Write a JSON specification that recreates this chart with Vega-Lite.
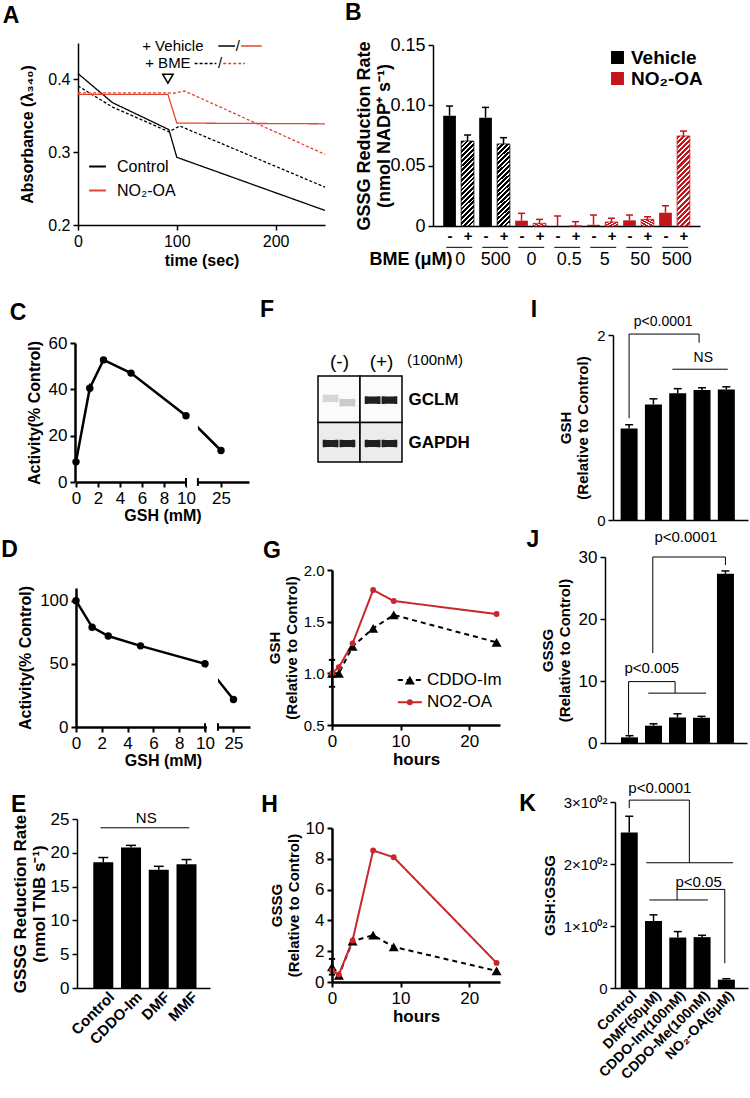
{
"$schema":"https://vega.github.io/schema/vega-lite/v6.json",
"width":750,"height":1098,
"autosize":{"type":"none"},
"padding":0,
"background":"white",
"config":{
 "view":{"stroke":null},
 "font":"Liberation Sans",
 "axis":{"grid":false,"domainColor":"#000","tickColor":"#000","labelColor":"#000","titleColor":"#000","labelFont":"Liberation Sans","titleFont":"Liberation Sans","labelOverlap":false,"labelFlush":false,"labelBound":false,"titleFontWeight":"bold","tickSize":5,"labelPadding":3},
 "text":{"font":"Liberation Sans","color":"#000"},
 "point":{"opacity":1},
 "legend":{"labelFont":"Liberation Sans","labelColor":"#000"}
},
"resolve":{"scale":{"x":"independent","y":"independent","color":"independent","strokeDash":"independent","shape":"independent","size":"independent","fill":"independent","stroke":"independent"},"axis":{"x":"independent","y":"independent"},"legend":{"color":"independent","strokeDash":"independent","shape":"independent","size":"independent","fill":"independent","stroke":"independent"}},
"datasets":{
 "A":[
  {"series":"Control","bme":"Vehicle","t":0,"v":0.408},{"series":"Control","bme":"Vehicle","t":35,"v":0.368},{"series":"Control","bme":"Vehicle","t":92,"v":0.331},{"series":"Control","bme":"Vehicle","t":100,"v":0.293},{"series":"Control","bme":"Vehicle","t":250,"v":0.22},
  {"series":"Control","bme":"BME","t":0,"v":0.391},{"series":"Control","bme":"BME","t":35,"v":0.362},{"series":"Control","bme":"BME","t":92,"v":0.328},{"series":"Control","bme":"BME","t":103,"v":0.336},{"series":"Control","bme":"BME","t":250,"v":0.252},
  {"series":"NO₂-OA","bme":"Vehicle","t":0,"v":0.3795},{"series":"NO₂-OA","bme":"Vehicle","t":91,"v":0.3795},{"series":"NO₂-OA","bme":"Vehicle","t":100,"v":0.34},{"series":"NO₂-OA","bme":"Vehicle","t":250,"v":0.339},
  {"series":"NO₂-OA","bme":"BME","t":0,"v":0.3815},{"series":"NO₂-OA","bme":"BME","t":90,"v":0.3815},{"series":"NO₂-OA","bme":"BME","t":97,"v":0.381},{"series":"NO₂-OA","bme":"BME","t":108,"v":0.384},{"series":"NO₂-OA","bme":"BME","t":250,"v":0.297}
 ],
 "Aseg":[
  {"series":"Control","bme":"Vehicle","t":142,"v":0.446},{"series":"Control","bme":"Vehicle","t":159,"v":0.446},
  {"series":"NO₂-OA","bme":"Vehicle","t":165,"v":0.446},{"series":"NO₂-OA","bme":"Vehicle","t":186,"v":0.446},
  {"series":"Control","bme":"BME","t":118,"v":0.422},{"series":"Control","bme":"BME","t":140,"v":0.422},
  {"series":"NO₂-OA","bme":"BME","t":147,"v":0.422},{"series":"NO₂-OA","bme":"BME","t":169,"v":0.422}
 ],
 "Atxt":[{"txt":"+ Vehicle","t":127,"v":0.446},{"txt":"/","t":164,"v":0.446},{"txt":"+ BME","t":114,"v":0.422},{"txt":"/","t":146,"v":0.422}],
 "B":[
  {"i":1,"trt":"Vehicle","bme":"-","v":0.0914,"err":0.0994},
  {"i":2,"trt":"Vehicle","bme":"+","v":0.0704,"err":0.0754},
  {"i":3,"trt":"Vehicle","bme":"-","v":0.0898,"err":0.0983},
  {"i":4,"trt":"Vehicle","bme":"+","v":0.068,"err":0.0732},
  {"i":5,"trt":"NO₂-OA","bme":"-","v":0.0044,"err":0.0105},
  {"i":6,"trt":"NO₂-OA","bme":"+","v":0.0022,"err":0.0055},
  {"i":7,"trt":"NO₂-OA","bme":"-","v":0.0,"err":0.0083},
  {"i":8,"trt":"NO₂-OA","bme":"+","v":0.0,"err":0.0036},
  {"i":9,"trt":"NO₂-OA","bme":"-","v":0.001,"err":0.0091},
  {"i":10,"trt":"NO₂-OA","bme":"+","v":0.0033,"err":0.0064},
  {"i":11,"trt":"NO₂-OA","bme":"-","v":0.0047,"err":0.0091},
  {"i":12,"trt":"NO₂-OA","bme":"+","v":0.0055,"err":0.0077},
  {"i":13,"trt":"NO₂-OA","bme":"-","v":0.011,"err":0.0168},
  {"i":14,"trt":"NO₂-OA","bme":"+","v":0.0746,"err":0.0787}
 ],
 "Bgrp":[
  {"lab":"0","a":0.82,"b":2.26,"m":1.6},{"lab":"500","a":2.82,"b":4.26,"m":3.57},{"lab":"0","a":4.82,"b":6.26,"m":5.55},{"lab":"0.5","a":6.82,"b":8.26,"m":7.65},{"lab":"5","a":8.82,"b":10.26,"m":9.62},{"lab":"50","a":10.82,"b":12.26,"m":11.6},{"lab":"500","a":12.82,"b":14.26,"m":13.62}
 ],
 "C":[{"g":0,"a":8.7},{"g":1.25,"a":40.5,"lo":38.5,"hi":42.5},{"g":2.5,"a":52.7},{"g":5,"a":47},{"g":10,"a":28.6},{"g":25,"a":13.6}],
 "D":[{"g":0,"a":100},{"g":1.25,"a":79},{"g":2.5,"a":72},{"g":5,"a":64.2,"lo":61.8,"hi":66.6},{"g":10,"a":50},{"g":25,"a":21.8}],
 "E":[{"i":1,"v":18.6,"e":19.3},{"i":2,"v":20.8,"e":21.1},{"i":3,"v":17.5,"e":18.0},{"i":4,"v":18.3,"e":19.0}],
 "Fcell":[{"p":"GCLM","x1":0,"x2":2,"y1":0,"y2":1.08},{"p":"GCLM","x1":2,"x2":4,"y1":0,"y2":1.08},{"p":"GAPDH","x1":0,"x2":2,"y1":1.08,"y2":2},{"p":"GAPDH","x1":2,"x2":4,"y1":1.08,"y2":2}],
 "Fband":[
  {"lx":0.6,"ly":0.52,"lvl":"faint"},{"lx":1.4,"ly":0.62,"lvl":"faint2"},
  {"lx":2.6,"ly":0.56,"lvl":"strong"},{"lx":3.4,"ly":0.56,"lvl":"strong"},
  {"lx":0.6,"ly":1.57,"lvl":"strong"},{"lx":1.4,"ly":1.57,"lvl":"strong"},
  {"lx":2.6,"ly":1.57,"lvl":"strong"},{"lx":3.4,"ly":1.57,"lvl":"strong"}
 ],
 "G":[
  {"s":"CDDO-Im","h":0,"v":1.0},{"s":"CDDO-Im","h":1,"v":1.0},{"s":"CDDO-Im","h":3,"v":1.26},{"s":"CDDO-Im","h":6,"v":1.435},{"s":"CDDO-Im","h":9,"v":1.565},{"s":"CDDO-Im","h":24,"v":1.3},
  {"s":"NO2-OA","h":0,"v":1.0},{"s":"NO2-OA","h":1,"v":1.06},{"s":"NO2-OA","h":3,"v":1.29},{"s":"NO2-OA","h":6,"v":1.806},{"s":"NO2-OA","h":9,"v":1.7},{"s":"NO2-OA","h":24,"v":1.574}
 ],
 "Gleg":[{"s":"CDDO-Im","h":9.6,"v":0.935},{"s":"CDDO-Im","h":13.1,"v":0.935},{"s":"NO2-OA","h":9.6,"v":0.72},{"s":"NO2-OA","h":13.1,"v":0.72}],
 "Gmk":[{"s":"CDDO-Im","h":11.35,"ht":13.85,"v":0.935},{"s":"NO2-OA","h":11.35,"ht":13.85,"v":0.72}],
 "H":[
  {"s":"CDDO-Im","h":0,"v":0.98},{"s":"CDDO-Im","h":1,"v":0.43},{"s":"CDDO-Im","h":3,"v":2.65},{"s":"CDDO-Im","h":6,"v":3.04},{"s":"CDDO-Im","h":9,"v":2.28},{"s":"CDDO-Im","h":24,"v":0.72},
  {"s":"NO2-OA","h":0,"v":0.75},{"s":"NO2-OA","h":1,"v":0.48},{"s":"NO2-OA","h":3,"v":2.7},{"s":"NO2-OA","h":6,"v":8.54},{"s":"NO2-OA","h":9,"v":8.1},{"s":"NO2-OA","h":24,"v":1.24}
 ],
 "I":[{"i":1,"v":0.99,"e":1.03},{"i":2,"v":1.25,"e":1.31},{"i":3,"v":1.37,"e":1.42},{"i":4,"v":1.405,"e":1.43},{"i":5,"v":1.41,"e":1.44}],
 "Iann":[{"x1":1,"x2":1,"y1":1.1,"y2":2.01},{"x1":1,"x2":3.88,"y1":2.01,"y2":2.01},{"x1":3.88,"x2":3.88,"y1":2.01,"y2":1.917},{"x1":2.78,"x2":5.06,"y1":1.63,"y2":1.63}],
 "Itxt":[{"txt":"p<0.0001","x":2.4,"y":2.14},{"txt":"NS","x":4.05,"y":1.75}],
 "J":[{"i":1,"v":0.91,"e":1.18},{"i":2,"v":2.79,"e":3.1},{"i":3,"v":4.12,"e":4.71},{"i":4,"v":4.07,"e":4.3},{"i":5,"v":27.3,"e":27.75}],
 "Jann":[{"x1":0.96,"x2":0.96,"y1":1.34,"y2":9.9},{"x1":0.96,"x2":2.9,"y1":9.9,"y2":9.9},{"x1":2.9,"x2":2.9,"y1":9.9,"y2":8.04},{"x1":1.78,"x2":4.19,"y1":8.04,"y2":8.04},{"x1":1.97,"x2":1.97,"y1":14.5,"y2":30},{"x1":1.97,"x2":5.0,"y1":30,"y2":30},{"x1":5.0,"x2":5.0,"y1":30,"y2":28.7}],
 "Jtxt":[{"txt":"p<0.005","x":1.93,"y":12.06},{"txt":"p<0.0001","x":3.35,"y":33.2}],
 "K":[{"i":1,"v":250.7,"e":277},{"i":2,"v":108,"e":118},{"i":3,"v":81.4,"e":91},{"i":4,"v":82,"e":85},{"i":5,"v":13.4,"e":15}],
 "Kann":[{"x1":1,"x2":1,"y1":290,"y2":303},{"x1":1,"x2":3.476,"y1":303,"y2":303},{"x1":3.476,"x2":3.476,"y1":303,"y2":202},{"x1":1.7,"x2":5.28,"y1":202,"y2":202},{"x1":1.827,"x2":4.24,"y1":142,"y2":142},{"x1":2.97,"x2":2.97,"y1":142,"y2":159},{"x1":2.97,"x2":4.935,"y1":159,"y2":159},{"x1":4.935,"x2":4.935,"y1":159,"y2":40}],
 "Ktxt":[{"txt":"p<0.0001","x":2.26,"y":322},{"txt":"p<0.05","x":3.857,"y":171.7}]
},
"layer":[
 {"layer":[
  {"data":{"name":"A"},"mark":{"type":"line","strokeWidth":1.3},
   "encoding":{
    "x":{"field":"t","type":"quantitative","scale":{"domain":[0,250],"range":[78,325],"nice":false,"zero":false},"axis":{"orient":"bottom","offset":-873,"values":[0,100,200],"format":"d","title":"time (sec)","labelFontSize":16,"titleFontSize":16,"domainWidth":1.5,"tickWidth":1.5,"titlePadding":3}},
    "y":{"field":"v","type":"quantitative","scale":{"domain":[0.2,0.45],"range":[225,43],"nice":false,"zero":false},"axis":{"orient":"left","offset":-78,"values":[0.2,0.3,0.4],"format":".1f","title":"Absorbance (λ₃₄₀)","labelFontSize":16,"titleFontSize":16,"domainWidth":1.5,"tickWidth":1.5,"titlePadding":12}},
    "color":{"field":"series","type":"nominal","scale":{"domain":["Control","NO₂-OA"],"range":["#000000","#e2452f"]},"legend":{"orient":"none","legendX":88,"legendY":157,"title":null,"symbolType":"stroke","symbolStrokeWidth":2,"symbolSize":280,"labelFontSize":16,"rowPadding":6,"labelOffset":10}},
    "strokeDash":{"field":"bme","type":"nominal","scale":{"domain":["Vehicle","BME"],"range":[[1,0],[3,2]]},"legend":null}
   }},
  {"data":{"name":"Aseg"},"mark":{"type":"line","strokeWidth":1.5},"encoding":{"x":{"field":"t","type":"quantitative"},"y":{"field":"v","type":"quantitative"},"color":{"field":"series","type":"nominal"},"strokeDash":{"field":"bme","type":"nominal"}}},
  {"data":{"name":"Atxt"},"mark":{"type":"text","align":"right","baseline":"middle","fontSize":15},"encoding":{"x":{"field":"t","type":"quantitative"},"y":{"field":"v","type":"quantitative"},"text":{"field":"txt"}}},
  {"data":{"values":[{"t":91,"v":0.401}]},"mark":{"type":"point","shape":"triangle-down","filled":false,"stroke":"#000","strokeWidth":1.5,"size":110},"encoding":{"x":{"field":"t","type":"quantitative"},"y":{"field":"v","type":"quantitative"}}},
  {"data":{"values":[{"L":"A","t":-67.8,"v":0.4775}]},"mark":{"type":"text","fontSize":23,"fontWeight":"bold","align":"center","baseline":"alphabetic"},"encoding":{"x":{"field":"t","type":"quantitative"},"y":{"field":"v","type":"quantitative"},"text":{"field":"L"}}}
 ]},
 {"layer":[
  {"data":{"name":"B"},"transform":[{"filter":"datum.bme == '-'"}],"mark":{"type":"bar","width":12.7},
   "encoding":{
    "x":{"field":"i","type":"quantitative","scale":{"domain":[0.358,14.64],"range":[433,700],"nice":false,"zero":false},"axis":{"orient":"bottom","offset":-872,"values":[1,2,3,4,5,6,7,8,9,10,11,12,13,14],"labelExpr":"datum.value % 2 == 1 ? '-' : '+'","ticks":false,"labelFontSize":15,"labelFontWeight":"bold","domainWidth":1.5,"title":null,"labelPadding":2}},
    "y":{"field":"v","type":"quantitative","scale":{"domain":[0,0.15],"range":[226,45],"nice":false,"zero":false},"axis":{"orient":"left","offset":-433,"values":[0,0.05,0.1,0.15],"labelExpr":"datum.value == 0 ? '0' : format(datum.value, '.2f')","labelFontSize":18,"title":["GSSG Reduction Rate","(nmol NADP⁺ s⁻¹)"],"titleFontSize":18,"domainWidth":1.5,"tickWidth":1.5,"titlePadding":-4}},
    "color":{"field":"trt","type":"nominal","scale":{"domain":["Vehicle","NO₂-OA"],"range":["#000000","#c3161c"]},"legend":{"orient":"none","legendX":608,"legendY":48,"title":null,"symbolType":"square","symbolSize":130,"labelFontSize":19,"labelFontWeight":"bold","rowPadding":1,"labelOffset":4}}
   }},
  {"data":{"name":"B"},"transform":[{"filter":"datum.bme == '+' && datum.trt == 'Vehicle'"}],"mark":{"type":"bar","width":12.7,"stroke":"#000","strokeWidth":0.8,"fill":{"gradient":"linear","x1":0,"y1":0,"x2":0.164,"y2":1.1,"stops":[{"offset":0,"color":"#000"},{"offset":0.03,"color":"#000"},{"offset":0.03,"color":"#fff"},{"offset":0.05,"color":"#fff"},{"offset":0.05,"color":"#000"},{"offset":0.08,"color":"#000"},{"offset":0.08,"color":"#fff"},{"offset":0.1,"color":"#fff"},{"offset":0.1,"color":"#000"},{"offset":0.13,"color":"#000"},{"offset":0.13,"color":"#fff"},{"offset":0.15,"color":"#fff"},{"offset":0.15,"color":"#000"},{"offset":0.18,"color":"#000"},{"offset":0.18,"color":"#fff"},{"offset":0.2,"color":"#fff"},{"offset":0.2,"color":"#000"},{"offset":0.23,"color":"#000"},{"offset":0.23,"color":"#fff"},{"offset":0.25,"color":"#fff"},{"offset":0.25,"color":"#000"},{"offset":0.28,"color":"#000"},{"offset":0.28,"color":"#fff"},{"offset":0.3,"color":"#fff"},{"offset":0.3,"color":"#000"},{"offset":0.33,"color":"#000"},{"offset":0.33,"color":"#fff"},{"offset":0.35,"color":"#fff"},{"offset":0.35,"color":"#000"},{"offset":0.38,"color":"#000"},{"offset":0.38,"color":"#fff"},{"offset":0.4,"color":"#fff"},{"offset":0.4,"color":"#000"},{"offset":0.43,"color":"#000"},{"offset":0.43,"color":"#fff"},{"offset":0.45,"color":"#fff"},{"offset":0.45,"color":"#000"},{"offset":0.48,"color":"#000"},{"offset":0.48,"color":"#fff"},{"offset":0.5,"color":"#fff"},{"offset":0.5,"color":"#000"},{"offset":0.53,"color":"#000"},{"offset":0.53,"color":"#fff"},{"offset":0.55,"color":"#fff"},{"offset":0.55,"color":"#000"},{"offset":0.58,"color":"#000"},{"offset":0.58,"color":"#fff"},{"offset":0.6,"color":"#fff"},{"offset":0.6,"color":"#000"},{"offset":0.63,"color":"#000"},{"offset":0.63,"color":"#fff"},{"offset":0.65,"color":"#fff"},{"offset":0.65,"color":"#000"},{"offset":0.68,"color":"#000"},{"offset":0.68,"color":"#fff"},{"offset":0.7,"color":"#fff"},{"offset":0.7,"color":"#000"},{"offset":0.73,"color":"#000"},{"offset":0.73,"color":"#fff"},{"offset":0.75,"color":"#fff"},{"offset":0.75,"color":"#000"},{"offset":0.78,"color":"#000"},{"offset":0.78,"color":"#fff"},{"offset":0.8,"color":"#fff"},{"offset":0.8,"color":"#000"},{"offset":0.83,"color":"#000"},{"offset":0.83,"color":"#fff"},{"offset":0.85,"color":"#fff"},{"offset":0.85,"color":"#000"},{"offset":0.88,"color":"#000"},{"offset":0.88,"color":"#fff"},{"offset":0.9,"color":"#fff"},{"offset":0.9,"color":"#000"},{"offset":0.93,"color":"#000"},{"offset":0.93,"color":"#fff"},{"offset":0.95,"color":"#fff"},{"offset":0.95,"color":"#000"},{"offset":0.98,"color":"#000"},{"offset":0.98,"color":"#fff"},{"offset":1,"color":"#fff"}]}},"encoding":{"x":{"field":"i","type":"quantitative"},"y":{"field":"v","type":"quantitative"}}},
  {"data":{"name":"B"},"transform":[{"filter":"datum.bme == '+' && datum.trt != 'Vehicle'"}],"mark":{"type":"bar","width":12.7,"stroke":"#c3161c","strokeWidth":0.8,"fill":{"gradient":"linear","x1":0,"y1":0,"x2":0.158,"y2":1.119,"stops":[{"offset":0,"color":"#c3161c"},{"offset":0.03,"color":"#c3161c"},{"offset":0.03,"color":"#fff"},{"offset":0.05,"color":"#fff"},{"offset":0.05,"color":"#c3161c"},{"offset":0.08,"color":"#c3161c"},{"offset":0.08,"color":"#fff"},{"offset":0.1,"color":"#fff"},{"offset":0.1,"color":"#c3161c"},{"offset":0.13,"color":"#c3161c"},{"offset":0.13,"color":"#fff"},{"offset":0.15,"color":"#fff"},{"offset":0.15,"color":"#c3161c"},{"offset":0.18,"color":"#c3161c"},{"offset":0.18,"color":"#fff"},{"offset":0.2,"color":"#fff"},{"offset":0.2,"color":"#c3161c"},{"offset":0.23,"color":"#c3161c"},{"offset":0.23,"color":"#fff"},{"offset":0.25,"color":"#fff"},{"offset":0.25,"color":"#c3161c"},{"offset":0.28,"color":"#c3161c"},{"offset":0.28,"color":"#fff"},{"offset":0.3,"color":"#fff"},{"offset":0.3,"color":"#c3161c"},{"offset":0.33,"color":"#c3161c"},{"offset":0.33,"color":"#fff"},{"offset":0.35,"color":"#fff"},{"offset":0.35,"color":"#c3161c"},{"offset":0.38,"color":"#c3161c"},{"offset":0.38,"color":"#fff"},{"offset":0.4,"color":"#fff"},{"offset":0.4,"color":"#c3161c"},{"offset":0.43,"color":"#c3161c"},{"offset":0.43,"color":"#fff"},{"offset":0.45,"color":"#fff"},{"offset":0.45,"color":"#c3161c"},{"offset":0.48,"color":"#c3161c"},{"offset":0.48,"color":"#fff"},{"offset":0.5,"color":"#fff"},{"offset":0.5,"color":"#c3161c"},{"offset":0.53,"color":"#c3161c"},{"offset":0.53,"color":"#fff"},{"offset":0.55,"color":"#fff"},{"offset":0.55,"color":"#c3161c"},{"offset":0.58,"color":"#c3161c"},{"offset":0.58,"color":"#fff"},{"offset":0.6,"color":"#fff"},{"offset":0.6,"color":"#c3161c"},{"offset":0.63,"color":"#c3161c"},{"offset":0.63,"color":"#fff"},{"offset":0.65,"color":"#fff"},{"offset":0.65,"color":"#c3161c"},{"offset":0.68,"color":"#c3161c"},{"offset":0.68,"color":"#fff"},{"offset":0.7,"color":"#fff"},{"offset":0.7,"color":"#c3161c"},{"offset":0.73,"color":"#c3161c"},{"offset":0.73,"color":"#fff"},{"offset":0.75,"color":"#fff"},{"offset":0.75,"color":"#c3161c"},{"offset":0.78,"color":"#c3161c"},{"offset":0.78,"color":"#fff"},{"offset":0.8,"color":"#fff"},{"offset":0.8,"color":"#c3161c"},{"offset":0.83,"color":"#c3161c"},{"offset":0.83,"color":"#fff"},{"offset":0.85,"color":"#fff"},{"offset":0.85,"color":"#c3161c"},{"offset":0.88,"color":"#c3161c"},{"offset":0.88,"color":"#fff"},{"offset":0.9,"color":"#fff"},{"offset":0.9,"color":"#c3161c"},{"offset":0.93,"color":"#c3161c"},{"offset":0.93,"color":"#fff"},{"offset":0.95,"color":"#fff"},{"offset":0.95,"color":"#c3161c"},{"offset":0.98,"color":"#c3161c"},{"offset":0.98,"color":"#fff"},{"offset":1,"color":"#fff"}]}},"encoding":{"x":{"field":"i","type":"quantitative"},"y":{"field":"v","type":"quantitative"}}},
  {"data":{"name":"B"},"mark":{"type":"rule","strokeWidth":1.5},"encoding":{"x":{"field":"i","type":"quantitative"},"y":{"field":"v","type":"quantitative"},"y2":{"field":"err"},"stroke":{"field":"trt","type":"nominal","scale":{"domain":["Vehicle","NO₂-OA"],"range":["#000000","#c3161c"]},"legend":null}}},
  {"data":{"name":"B"},"mark":{"type":"point","shape":"M-1,0L1,0","filled":false,"strokeWidth":1.5,"size":49,"opacity":1},"encoding":{"x":{"field":"i","type":"quantitative"},"y":{"field":"err","type":"quantitative"},"stroke":{"field":"trt","type":"nominal","legend":null}}},
  {"data":{"name":"Bgrp"},"mark":{"type":"rule","strokeWidth":1,"color":"#000"},"encoding":{"x":{"field":"a","type":"quantitative"},"x2":{"field":"b"},"y":{"datum":-0.0177,"type":"quantitative"}}},
  {"data":{"name":"Bgrp"},"mark":{"type":"text","fontSize":18,"baseline":"middle"},"encoding":{"x":{"field":"m","type":"quantitative"},"y":{"datum":-0.0282,"type":"quantitative"},"text":{"field":"lab"}}},
  {"data":{"values":[{"s":"BME (μM)"}]},"mark":{"type":"text","fontSize":18,"fontWeight":"bold","align":"right","baseline":"middle"},"encoding":{"x":{"datum":1.16,"type":"quantitative"},"y":{"datum":-0.0282,"type":"quantitative"},"text":{"field":"s"}}},
  {"data":{"values":[{"L":"B","x":-4.35,"y":0.1705}]},"mark":{"type":"text","fontSize":23,"fontWeight":"bold","align":"center","baseline":"alphabetic"},"encoding":{"x":{"field":"x","type":"quantitative"},"y":{"field":"y","type":"quantitative"},"text":{"field":"L"}}}
 ]},
 {"layer":[
  {"data":{"name":"C"},"mark":{"type":"line","strokeWidth":2.5,"color":"#000"},"encoding":{
    "x":{"field":"g","type":"quantitative","scale":{"domain":[0,10,37],"range":[76,186,249],"nice":false,"zero":false},"axis":{"orient":"bottom","offset":-616,"values":[0,2,4,6,8,10,25],"format":"d","labelFontSize":17,"title":"GSH (mM)","titleFontSize":16,"domainWidth":2.5,"tickWidth":2,"titlePadding":1}},
    "y":{"field":"a","type":"quantitative","scale":{"domain":[0,60],"range":[482,343],"nice":false,"zero":false},"axis":{"orient":"left","offset":-75,"values":[0,20,40,60],"format":"d","labelFontSize":17,"title":"Activity(% Control)","titleFontSize":16,"domainWidth":2.5,"tickWidth":2,"titlePadding":6}}}},
  {"data":{"values":[{}]},"mark":{"type":"rect","fill":"white"},"encoding":{"x":{"datum":10.4,"type":"quantitative"},"x2":{"datum":15.1},"y":{"datum":-2.2,"type":"quantitative"},"y2":{"datum":40}}},
  {"data":{"values":[{"b":10},{"b":15.1}]},"mark":{"type":"rule","strokeWidth":2,"color":"#000"},"encoding":{"x":{"field":"b","type":"quantitative"},"y":{"datum":-1.7,"type":"quantitative"},"y2":{"datum":1.7}}},
  {"data":{"name":"C"},"transform":[{"filter":"isValid(datum.lo)"}],"mark":{"type":"rule","strokeWidth":1.5,"color":"#000"},"encoding":{"x":{"field":"g","type":"quantitative"},"y":{"field":"lo","type":"quantitative"},"y2":{"field":"hi"}}},
  {"data":{"name":"C"},"mark":{"type":"point","filled":true,"color":"#000","size":55,"opacity":1},"encoding":{"x":{"field":"g","type":"quantitative"},"y":{"field":"a","type":"quantitative"}}},
  {"data":{"values":[{"L":"C","x":-5.27,"y":69.9}]},"mark":{"type":"text","fontSize":23,"fontWeight":"bold","align":"center","baseline":"alphabetic"},"encoding":{"x":{"field":"x","type":"quantitative"},"y":{"field":"y","type":"quantitative"},"text":{"field":"L"}}}
 ]},
 {"layer":[
  {"data":{"name":"D"},"mark":{"type":"line","strokeWidth":2.5,"color":"#000"},"encoding":{
    "x":{"field":"g","type":"quantitative","scale":{"domain":[0,10,33.7],"range":[76,205,250],"nice":false,"zero":false},"axis":{"orient":"bottom","offset":-371,"values":[0,2,4,6,8,10,25],"format":"d","labelFontSize":17,"title":"GSH (mM)","titleFontSize":16,"domainWidth":2.5,"tickWidth":2,"titlePadding":1}},
    "y":{"field":"a","type":"quantitative","scale":{"domain":[0,110],"range":[727,588],"nice":false,"zero":false},"axis":{"orient":"left","offset":-76,"values":[0,50,100],"format":"d","labelFontSize":17,"title":"Activity(% Control)","titleFontSize":16,"domainWidth":2.5,"tickWidth":2,"titlePadding":6}}}},
  {"data":{"values":[{}]},"mark":{"type":"rect","fill":"white"},"encoding":{"x":{"datum":11.05,"type":"quantitative"},"x2":{"datum":16.85},"y":{"datum":-2.1,"type":"quantitative"},"y2":{"datum":60}}},
  {"data":{"values":[{"b":10},{"b":16.85}]},"mark":{"type":"rule","strokeWidth":2,"color":"#000"},"encoding":{"x":{"field":"b","type":"quantitative"},"y":{"datum":-3,"type":"quantitative"},"y2":{"datum":3}}},
  {"data":{"name":"D"},"transform":[{"filter":"isValid(datum.lo)"}],"mark":{"type":"rule","strokeWidth":1.5,"color":"#000"},"encoding":{"x":{"field":"g","type":"quantitative"},"y":{"field":"lo","type":"quantitative"},"y2":{"field":"hi"}}},
  {"data":{"name":"D"},"mark":{"type":"point","filled":true,"color":"#000","size":55,"opacity":1},"encoding":{"x":{"field":"g","type":"quantitative"},"y":{"field":"a","type":"quantitative"}}},
  {"data":{"values":[{"L":"D","x":-5.155,"y":134.5}]},"mark":{"type":"text","fontSize":23,"fontWeight":"bold","align":"center","baseline":"alphabetic"},"encoding":{"x":{"field":"x","type":"quantitative"},"y":{"field":"y","type":"quantitative"},"text":{"field":"L"}}}
 ]},
 {"layer":[
  {"data":{"name":"E"},"mark":{"type":"bar","width":20,"color":"#000"},"encoding":{
    "x":{"field":"i","type":"quantitative","scale":{"domain":[0.233,4.667],"range":[77,210],"nice":false,"zero":false},"axis":{"orient":"bottom","offset":-110,"values":[1,2,3,4],"labelExpr":"['','Control','CDDO-Im','DMF','MMF'][datum.value]","labelAngle":-45,"labelAlign":"right","labelBaseline":"middle","labelFontSize":15,"labelFontWeight":"bold","ticks":false,"domainWidth":1.5,"title":null,"labelPadding":6,"labelOffset":8}},
    "y":{"field":"v","type":"quantitative","scale":{"domain":[0,25],"range":[988,819],"nice":false,"zero":false},"axis":{"orient":"left","offset":-77,"values":[0,5,10,15,20,25],"format":"d","labelFontSize":17,"title":["GSSG Reduction Rate","(nmol TNB s⁻¹)"],"titleFontSize":17,"domainWidth":1.5,"tickWidth":1.5,"titlePadding":2}}}},
  {"data":{"name":"E"},"mark":{"type":"rule","strokeWidth":1.5,"color":"#000"},"encoding":{"x":{"field":"i","type":"quantitative"},"y":{"field":"v","type":"quantitative"},"y2":{"field":"e"}}},
  {"data":{"name":"E"},"mark":{"type":"point","shape":"M-1,0L1,0","filled":false,"stroke":"#000","strokeWidth":1.5,"size":100,"opacity":1},"encoding":{"x":{"field":"i","type":"quantitative"},"y":{"field":"e","type":"quantitative"}}},
  {"data":{"values":[{"txt":"NS"}]},"mark":{"type":"rule","strokeWidth":1,"color":"#000"},"encoding":{"x":{"datum":0.9,"type":"quantitative"},"x2":{"datum":4.1},"y":{"datum":23.7,"type":"quantitative"}}},
  {"data":{"values":[{"txt":"NS"}]},"mark":{"type":"text","fontSize":15,"baseline":"middle"},"encoding":{"x":{"datum":2.55,"type":"quantitative"},"y":{"datum":25.1,"type":"quantitative"},"text":{"field":"txt"}}},
  {"data":{"values":[{"L":"E","x":-2.05,"y":26.0}]},"mark":{"type":"text","fontSize":23,"fontWeight":"bold","align":"center","baseline":"alphabetic"},"encoding":{"x":{"field":"x","type":"quantitative"},"y":{"field":"y","type":"quantitative"},"text":{"field":"L"}}}
 ]},
 {"layer":[
  {"data":{"name":"Fcell"},"mark":{"type":"rect","stroke":"#000","strokeWidth":1.5},"encoding":{
    "x":{"field":"x1","type":"quantitative","scale":{"domain":[0,4],"range":[318,402],"nice":false,"zero":false},"axis":{"orient":"top","offset":-376,"values":[1,3],"labelExpr":"datum.value < 2 ? '(-)' : '(+)'","labelFontSize":19,"ticks":false,"domain":false,"title":null,"labelPadding":5}},
    "x2":{"field":"x2"},
    "y":{"field":"y1","type":"quantitative","scale":{"domain":[0,2],"range":[376,462],"nice":false,"zero":false},"axis":{"orient":"right","offset":-348,"values":[0.54,1.54],"labelExpr":"datum.value < 1 ? 'GCLM' : 'GAPDH'","labelFontSize":17,"labelFontWeight":"bold","ticks":false,"domain":false,"title":null,"labelPadding":6}},
    "y2":{"field":"y2"},
    "fill":{"field":"p","type":"nominal","scale":{"domain":["GCLM","GAPDH"],"range":["#fbfbfb","#ececec"]},"legend":null}}},
  {"data":{"name":"Fband"},"mark":{"type":"point","shape":"M-1,-0.42C-1,-0.5,-0.8,-0.5,-0.5,-0.45L0.5,-0.45C0.8,-0.5,1,-0.5,1,-0.42L1,0.42C1,0.5,0.8,0.5,0.5,0.45L-0.5,0.45C-0.8,0.5,-1,0.5,-1,0.42Z","filled":true,"size":250,"opacity":0.95},"encoding":{"x":{"field":"lx","type":"quantitative"},"y":{"field":"ly","type":"quantitative"},"color":{"field":"lvl","type":"nominal","scale":{"domain":["faint","faint2","strong"],"range":["#d4d4d4","#c8c8c8","#141414"]},"legend":null}}},
  {"data":{"values":[{"s":"(100nM)"}]},"mark":{"type":"text","fontSize":15,"baseline":"middle","align":"center"},"encoding":{"x":{"datum":5.57,"type":"quantitative"},"y":{"datum":-0.37,"type":"quantitative"},"text":{"field":"s"}}}
 ]},
 {"layer":[
  {"data":{"name":"G"},"mark":{"type":"line","strokeWidth":2},"encoding":{
    "x":{"field":"h","type":"quantitative","scale":{"domain":[0,24.5],"range":[332,500],"nice":false,"zero":false},"axis":{"orient":"bottom","offset":-373,"values":[0,10,20],"format":"d","labelFontSize":17,"title":"hours","titleFontSize":17,"domainWidth":2.5,"tickWidth":2,"titlePadding":2}},
    "y":{"field":"v","type":"quantitative","scale":{"domain":[0.5,2],"range":[725,570],"nice":false,"zero":false},"axis":{"orient":"left","offset":-332,"values":[0.5,1,1.5,2],"format":".1f","labelFontSize":15,"title":["GSH","(Relative to Control)"],"titleFontSize":15,"domainWidth":2.5,"tickWidth":2,"titlePadding":4}},
    "color":{"field":"s","type":"nominal","scale":{"domain":["CDDO-Im","NO2-OA"],"range":["#000000","#c8272b"]},"legend":null},
    "strokeDash":{"field":"s","type":"nominal","scale":{"domain":["CDDO-Im","NO2-OA"],"range":[[5,4],[1,0]]},"legend":null}}},
  {"data":{"name":"G"},"mark":{"type":"point","filled":true,"opacity":1},"encoding":{"x":{"field":"h","type":"quantitative"},"y":{"field":"v","type":"quantitative"},"color":{"field":"s","type":"nominal","legend":null},"shape":{"field":"s","type":"nominal","scale":{"domain":["CDDO-Im","NO2-OA"],"range":["triangle-up","circle"]},"legend":null},"size":{"field":"s","type":"nominal","scale":{"domain":["CDDO-Im","NO2-OA"],"range":[100,35]},"legend":null}}},
  {"data":{"values":[{"h":0,"lo":0.87,"hi":1.13}]},"mark":{"type":"rule","strokeWidth":2,"color":"#000"},"encoding":{"x":{"field":"h","type":"quantitative"},"y":{"field":"lo","type":"quantitative"},"y2":{"field":"hi"}}},
  {"data":{"values":[{"h":0,"c":0.87},{"h":0,"c":1.13}]},"mark":{"type":"point","shape":"M-1,0L1,0","filled":false,"stroke":"#000","strokeWidth":2,"size":40,"opacity":1},"encoding":{"x":{"field":"h","type":"quantitative"},"y":{"field":"c","type":"quantitative"}}},
  {"data":{"name":"Gleg"},"mark":{"type":"line","strokeWidth":2},"encoding":{"x":{"field":"h","type":"quantitative"},"y":{"field":"v","type":"quantitative"},"color":{"field":"s","type":"nominal","legend":null},"strokeDash":{"field":"s","type":"nominal","legend":null}}},
  {"data":{"name":"Gmk"},"mark":{"type":"point","filled":true,"opacity":1},"encoding":{"x":{"field":"h","type":"quantitative"},"y":{"field":"v","type":"quantitative"},"color":{"field":"s","type":"nominal","legend":null},"shape":{"field":"s","type":"nominal","legend":null},"size":{"field":"s","type":"nominal","legend":null}}},
  {"data":{"name":"Gmk"},"mark":{"type":"text","fontSize":17,"align":"left","baseline":"middle"},"encoding":{"x":{"field":"ht","type":"quantitative"},"y":{"field":"v","type":"quantitative"},"text":{"field":"s"}}},
  {"data":{"values":[{"L":"F","x":-9.48,"y":4.448},{"L":"G","x":-8.75,"y":2.116}]},"mark":{"type":"text","fontSize":23,"fontWeight":"bold","align":"center","baseline":"alphabetic"},"encoding":{"x":{"field":"x","type":"quantitative"},"y":{"field":"y","type":"quantitative"},"text":{"field":"L"}}}
 ]},
 {"layer":[
  {"data":{"name":"H"},"mark":{"type":"line","strokeWidth":2},"encoding":{
    "x":{"field":"h","type":"quantitative","scale":{"domain":[0,24.5],"range":[332,500],"nice":false,"zero":false},"axis":{"orient":"bottom","offset":-116,"values":[0,10,20],"format":"d","labelFontSize":17,"title":"hours","titleFontSize":17,"domainWidth":2.5,"tickWidth":2,"titlePadding":2}},
    "y":{"field":"v","type":"quantitative","scale":{"domain":[0,10],"range":[982,828],"nice":false,"zero":false},"axis":{"orient":"left","offset":-332,"values":[0,2,4,6,8,10],"format":"d","labelFontSize":17,"title":["GSSG","(Relative to Control)"],"titleFontSize":15,"domainWidth":2.5,"tickWidth":2,"titlePadding":4}},
    "color":{"field":"s","type":"nominal","scale":{"domain":["CDDO-Im","NO2-OA"],"range":["#000000","#c8272b"]},"legend":null},
    "strokeDash":{"field":"s","type":"nominal","scale":{"domain":["CDDO-Im","NO2-OA"],"range":[[5,4],[1,0]]},"legend":null}}},
  {"data":{"name":"H"},"mark":{"type":"point","filled":true,"opacity":1},"encoding":{"x":{"field":"h","type":"quantitative"},"y":{"field":"v","type":"quantitative"},"color":{"field":"s","type":"nominal","legend":null},"shape":{"field":"s","type":"nominal","scale":{"domain":["CDDO-Im","NO2-OA"],"range":["triangle-up","circle"]},"legend":null},"size":{"field":"s","type":"nominal","scale":{"domain":["CDDO-Im","NO2-OA"],"range":[100,35]},"legend":null}}},
  {"data":{"values":[{"h":0,"lo":0.48,"hi":1.5}]},"mark":{"type":"rule","strokeWidth":2,"color":"#000"},"encoding":{"x":{"field":"h","type":"quantitative"},"y":{"field":"lo","type":"quantitative"},"y2":{"field":"hi"}}},
  {"data":{"values":[{"h":0,"c":0.48},{"h":0,"c":1.5}]},"mark":{"type":"point","shape":"M-1,0L1,0","filled":false,"stroke":"#000","strokeWidth":2,"size":40,"opacity":1},"encoding":{"x":{"field":"h","type":"quantitative"},"y":{"field":"c","type":"quantitative"}}},
  {"data":{"values":[{"L":"H","x":-9.11,"y":11.04}]},"mark":{"type":"text","fontSize":23,"fontWeight":"bold","align":"center","baseline":"alphabetic"},"encoding":{"x":{"field":"x","type":"quantitative"},"y":{"field":"y","type":"quantitative"},"text":{"field":"L"}}}
 ]},
 {"layer":[
  {"data":{"name":"I"},"mark":{"type":"bar","width":17,"color":"#000"},"encoding":{
    "x":{"field":"i","type":"quantitative","scale":{"domain":[0.543,5.686],"range":[613,748],"nice":false,"zero":false},"axis":{"orient":"bottom","offset":-578,"labels":false,"ticks":false,"domainWidth":1.5,"title":null}},
    "y":{"field":"v","type":"quantitative","scale":{"domain":[0,2],"range":[520,335],"nice":false,"zero":false},"axis":{"orient":"left","offset":-613,"values":[0,1,2],"format":"d","labelFontSize":15,"title":["GSH","(Relative to Control)"],"titleFontSize":15,"domainWidth":1.5,"tickWidth":1.5,"titlePadding":6}}}},
  {"data":{"name":"I"},"mark":{"type":"rule","strokeWidth":1.5,"color":"#000"},"encoding":{"x":{"field":"i","type":"quantitative"},"y":{"field":"v","type":"quantitative"},"y2":{"field":"e"}}},
  {"data":{"name":"I"},"mark":{"type":"point","shape":"M-1,0L1,0","filled":false,"stroke":"#000","strokeWidth":1.5,"size":64,"opacity":1},"encoding":{"x":{"field":"i","type":"quantitative"},"y":{"field":"e","type":"quantitative"}}},
  {"data":{"name":"Iann"},"mark":{"type":"rule","strokeWidth":1,"color":"#000"},"encoding":{"x":{"field":"x1","type":"quantitative"},"x2":{"field":"x2"},"y":{"field":"y1","type":"quantitative"},"y2":{"field":"y2"}}},
  {"data":{"name":"Itxt"},"mark":{"type":"text","fontSize":14,"baseline":"middle"},"encoding":{"x":{"field":"x","type":"quantitative"},"y":{"field":"y","type":"quantitative"},"text":{"field":"txt"}}},
  {"data":{"values":[{"L":"I","x":-2.92,"y":2.195}]},"mark":{"type":"text","fontSize":23,"fontWeight":"bold","align":"center","baseline":"alphabetic"},"encoding":{"x":{"field":"x","type":"quantitative"},"y":{"field":"y","type":"quantitative"},"text":{"field":"L"}}}
 ]},
 {"layer":[
  {"data":{"name":"J"},"mark":{"type":"bar","width":17,"color":"#000"},"encoding":{
    "x":{"field":"i","type":"quantitative","scale":{"domain":[0.186,5.69],"range":[605,747],"nice":false,"zero":false},"axis":{"orient":"bottom","offset":-355,"labels":false,"ticks":false,"domainWidth":1.5,"title":null}},
    "y":{"field":"v","type":"quantitative","scale":{"domain":[0,30],"range":[743,557],"nice":false,"zero":false},"axis":{"orient":"left","offset":-605,"values":[0,10,20,30],"format":"d","labelFontSize":17,"title":["GSSG","(Relative to Control)"],"titleFontSize":15,"domainWidth":1.5,"tickWidth":1.5,"titlePadding":6}}}},
  {"data":{"name":"J"},"mark":{"type":"rule","strokeWidth":1.5,"color":"#000"},"encoding":{"x":{"field":"i","type":"quantitative"},"y":{"field":"v","type":"quantitative"},"y2":{"field":"e"}}},
  {"data":{"name":"J"},"mark":{"type":"point","shape":"M-1,0L1,0","filled":false,"stroke":"#000","strokeWidth":1.5,"size":64,"opacity":1},"encoding":{"x":{"field":"i","type":"quantitative"},"y":{"field":"e","type":"quantitative"}}},
  {"data":{"name":"Jann"},"mark":{"type":"rule","strokeWidth":1,"color":"#000"},"encoding":{"x":{"field":"x1","type":"quantitative"},"x2":{"field":"x2"},"y":{"field":"y1","type":"quantitative"},"y2":{"field":"y2"}}},
  {"data":{"name":"Jtxt"},"mark":{"type":"text","fontSize":15,"baseline":"middle"},"encoding":{"x":{"field":"x","type":"quantitative"},"y":{"field":"y","type":"quantitative"},"text":{"field":"txt"}}},
  {"data":{"values":[{"L":"J","x":-3.03,"y":31.6}]},"mark":{"type":"text","fontSize":23,"fontWeight":"bold","align":"center","baseline":"alphabetic"},"encoding":{"x":{"field":"x","type":"quantitative"},"y":{"field":"y","type":"quantitative"},"text":{"field":"L"}}}
 ]},
 {"layer":[
  {"data":{"name":"K"},"mark":{"type":"bar","width":17,"color":"#000"},"encoding":{
    "x":{"field":"i","type":"quantitative","scale":{"domain":[0.619,5.686],"range":[615,748],"nice":false,"zero":false},"axis":{"orient":"bottom","offset":-110,"values":[1,2,3,4,5],"labelExpr":"['','Control','DMF(50μM)','CDDO-Im(100nM)','CDDO-Me(100nM)','NO₂-OA(5μM)'][datum.value]","labelAngle":-45,"labelAlign":"right","labelBaseline":"middle","labelFontSize":14,"labelFontWeight":"bold","ticks":false,"domainWidth":1.5,"title":null,"labelPadding":5,"labelOffset":5}},
    "y":{"field":"v","type":"quantitative","scale":{"domain":[0,300],"range":[988,802],"nice":false,"zero":false},"axis":{"orient":"left","offset":-615,"values":[0,100,200,300],"labelExpr":"datum.value == 0 ? '0' : (datum.value/100) + '×10⁰²'","labelFontSize":15,"title":"GSH:GSSG","titleFontSize":15,"domainWidth":1.5,"tickWidth":1.5,"titlePadding":6}}}},
  {"data":{"name":"K"},"mark":{"type":"rule","strokeWidth":1.5,"color":"#000"},"encoding":{"x":{"field":"i","type":"quantitative"},"y":{"field":"v","type":"quantitative"},"y2":{"field":"e"}}},
  {"data":{"name":"K"},"mark":{"type":"point","shape":"M-1,0L1,0","filled":false,"stroke":"#000","strokeWidth":1.5,"size":64,"opacity":1},"encoding":{"x":{"field":"i","type":"quantitative"},"y":{"field":"e","type":"quantitative"}}},
  {"data":{"name":"Kann"},"mark":{"type":"rule","strokeWidth":1,"color":"#000"},"encoding":{"x":{"field":"x1","type":"quantitative"},"x2":{"field":"x2"},"y":{"field":"y1","type":"quantitative"},"y2":{"field":"y2"}}},
  {"data":{"name":"Ktxt"},"mark":{"type":"text","fontSize":15,"baseline":"middle"},"encoding":{"x":{"field":"x","type":"quantitative"},"y":{"field":"y","type":"quantitative"},"text":{"field":"txt"}}},
  {"data":{"values":[{"L":"K","x":-3.19,"y":285.5}]},"mark":{"type":"text","fontSize":23,"fontWeight":"bold","align":"center","baseline":"alphabetic"},"encoding":{"x":{"field":"x","type":"quantitative"},"y":{"field":"y","type":"quantitative"},"text":{"field":"L"}}}
 ]}
]
}
